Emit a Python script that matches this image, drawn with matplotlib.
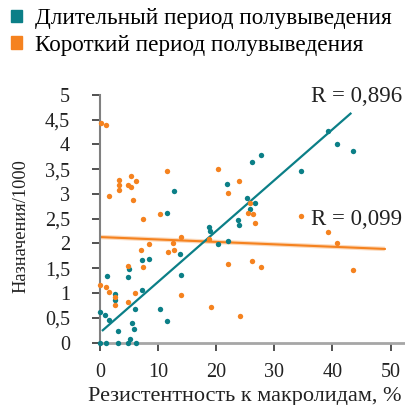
import matplotlib.pyplot as plt
from matplotlib.patches import Patch

plt.rcParams['font.family'] = ['Liberation Serif', 'DejaVu Serif']

TEAL = '#0b7f87'
ORANGE = '#f5821f'

# long half-life macrolides: (resistance %, prescriptions / 1000)
teal_x = [0.0, 1.1, 3.2, 4.8, 6.2, 5.2, 3.2, 5.8, 5.6, 1.6, 0.9, 0.1, 6.1, 10.3,
          11.6, 2.6, 2.6, 7.3, 4.9, 1.3, 13.9, 5.0, 7.2, 8.4, 13.8, 20.3, 22.1,
          18.95, 18.7, 23.9, 23.7, 11.6, 25.8, 26.6, 25.3, 12.8, 21.9, 34.5,
          26.2, 27.7, 40.7, 43.6, 39.2]
teal_y = [0.0, 0.0, 0.0, 0.0, 0.0, 0.08, 0.24, 0.28, 0.39, 0.46, 0.56, 0.62, 0.67,
          0.67, 0.44, 0.87, 0.99, 1.06, 1.32, 1.34, 1.37, 1.49, 1.66, 1.68, 1.79,
          1.98, 2.06, 2.25, 2.33, 2.38, 2.48, 2.61, 2.69, 2.82, 2.92, 3.05, 3.2,
          3.46, 3.64, 3.78, 4.0, 3.87, 4.27]

# short half-life macrolides
orange_x = [0.17, 1.03, 11.5, 5.4, 3.3, 6.2, 3.3, 4.9, 5.3, 3.3, 1.5, 5.7, 10.4,
            7.5, 13.9, 12.5, 8.4, 7.0, 12.7, 11.7, 4.9, 7.4, 0.1, 1.03, 1.5, 5.96,
            13.9, 2.6, 4.9, 2.6, 20.3, 23.9, 22.0, 25.8, 25.4, 26.3, 34.6, 26.6,
            39.2, 18.7, 40.8, 26.2, 22.0, 27.7, 43.6, 19.1, 24.1]
orange_y = [4.44, 4.40, 3.46, 3.36, 3.29, 3.26, 3.18, 3.17, 3.13, 3.08, 2.96, 2.87,
            2.59, 2.49, 2.13, 2.0, 1.98, 1.87, 1.86, 1.83, 1.55, 1.52, 1.16, 1.12,
            1.02, 1.0, 0.96, 0.93, 0.81, 0.75, 3.5, 3.26, 3.02, 2.82, 2.62, 2.59,
            2.55, 2.42, 2.24, 2.09, 2.01, 1.64, 1.59, 1.52, 1.46, 0.71, 0.54]

# trend lines as drawn in the original
teal_fit_x = [0.5, 43.1]
teal_fit_y = [0.25, 4.62]
orange_fit_x = [0.0, 49.0]
orange_fit_y = [2.13, 1.89]

legend_labels = ['Длительный период полувыведения', 'Короткий период полувыведения']
y_ticks = [0, 0.5, 1, 1.5, 2, 2.5, 3, 3.5, 4, 4.5, 5]
y_tick_labels = ['0', '0,5', '1', '1,5', '2', '2,5', '3', '3,5', '4', '4,5', '5']
x_ticks = [0, 10, 20, 30, 40, 50]

fig = plt.figure(figsize=(4.06, 4.05), dpi=100)
ax = fig.add_axes([0.246, 0.154, 0.752, 0.612])

# trend lines
ax.plot(orange_fit_x, orange_fit_y, color=ORANGE, lw=3.2, alpha=0.3, solid_capstyle='butt')
ax.plot(orange_fit_x, orange_fit_y, color=ORANGE, lw=1.5)
ax.plot(teal_fit_x, teal_fit_y, color=TEAL, lw=1.6)

ax.scatter(teal_x, teal_y, s=15, color=TEAL, lw=0, clip_on=False, zorder=3)
ax.scatter(orange_x, orange_y, s=15, color=ORANGE, lw=0, clip_on=False, zorder=3)

ax.text(44.2, 4.96, 'R = 0,896', fontsize=16.5, ha='center', va='center', color='#222222')
ax.text(44.2, 2.48, 'R = 0,099', fontsize=16.5, ha='center', va='center', color='#222222')

ax.set_xlim(0, 52.5)
ax.set_ylim(0, 5)
ax.set_xticks(x_ticks)
ax.set_yticks(y_ticks)
ax.set_yticklabels(y_tick_labels)
ax.tick_params(labelsize=14.5, length=5.5, width=1.2, color='#333333', labelcolor='#222222')
ax.tick_params(axis='x', pad=9)
ax.tick_params(axis='y', pad=16)

for side in ['top', 'right']:
    ax.spines[side].set_visible(False)
ax.spines['left'].set_color('#808080')
ax.spines['bottom'].set_color('#a6a6a6')
ax.spines['left'].set_linewidth(1.5)
ax.spines['bottom'].set_linewidth(2)

fig.text(245 / 406, 1 - 401.5 / 405, 'Резистентность к макролидам, %', fontsize=16,
         color='#222222', ha='center', va='baseline')
fig.text(21 / 406, 1 - 226 / 405, 'Назначения/1000', fontsize=13.2, rotation=90,
         color='#222222', ha='center', va='center')

handles = [Patch(color=TEAL), Patch(color=ORANGE)]
fig.legend(handles, legend_labels, loc='upper left', bbox_to_anchor=(0.008, 1.0),
           frameon=False, fontsize=16.7, handlelength=0.45, handleheight=0.45,
           handletextpad=0.55, labelspacing=0.25, borderaxespad=0.15, borderpad=0.2)

plt.savefig('out.png', dpi=100)
